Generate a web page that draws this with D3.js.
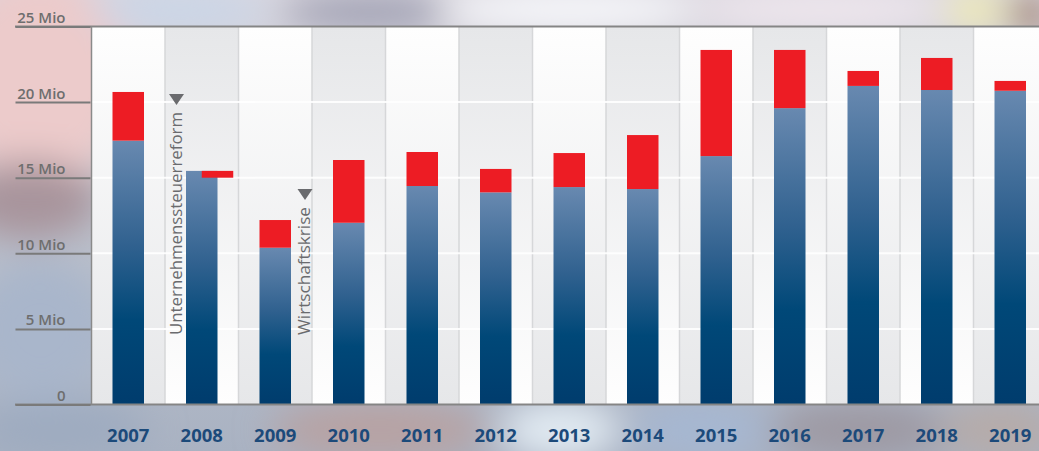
<!DOCTYPE html>
<html><head><meta charset="utf-8">
<script src="https://cdn.jsdelivr.net/npm/d3@7"></script>
<style>html,body{margin:0;padding:0;overflow:hidden;background:#b9c0cc}</style>
</head><body>
<script>
const years = ["2007","2008","2009","2010","2011","2012","2013","2014","2015","2016","2017","2018","2019"];
const baseValues = [17.45, 15.0, 10.37, 12.02, 14.45, 14.03, 14.38, 14.25, 16.43, 19.6, 21.07, 20.8, 20.75];
const topValues = [3.22, 0.45, 1.83, 4.15, 2.25, 1.55, 2.25, 3.57, 7.02, 3.85, 0.99, 2.12, 0.65];
const tickValues = [0, 5, 10, 15, 20, 25];
const tickLabels = ["0", "5 Mio", "10 Mio", "15 Mio", "20 Mio", "25 Mio"];
const annYears = ["2008", "2009"];
const annTexts = ["Unternehmenssteuerreform", "Wirtschaftskrise"];
const topShift = [0, 0.5, 0, 0, 0, 0, 0, 0, 0, 0, 0, 0, 0];

(function(){
const W = 1039, H = 451;
const annLen = [223, 128];
const annOffset = [16.5, 71.5];
const svg = d3.select("body").append("svg").attr("width", W).attr("height", H);
const defs = svg.append("defs");

// background
const bgGrad = defs.append("linearGradient").attr("id","bg").attr("x1",0).attr("y1",0).attr("x2",0).attr("y2",1);
bgGrad.append("stop").attr("offset","0").attr("stop-color","#d9d6de");
bgGrad.append("stop").attr("offset","0.5").attr("stop-color","#bcc1cc");
bgGrad.append("stop").attr("offset","1").attr("stop-color","#a9b2c2");
svg.append("rect").attr("width",W).attr("height",H).attr("fill","url(#bg)");
defs.append("filter").attr("id","blur").attr("x","-50%").attr("y","-50%").attr("width","200%").attr("height","200%")
  .append("feGaussianBlur").attr("stdDeviation",18);
const blobs = [
  [40,80,90,110,"#eccbcb"],[30,200,70,40,"#a8949c"],[40,330,70,70,"#a9b6cb"],
  [180,10,90,20,"#c9d6e8"],[370,12,90,18,"#9c9db0"],[570,10,130,22,"#f7f8fb"],
  [820,10,130,22,"#efe7ee"],[975,10,30,20,"#f1ecb2"],[1030,14,20,20,"#9a7868"],
  [60,430,90,30,"#9eabc0"],[380,430,110,30,"#b7a2a3"],[560,430,60,30,"#e2ebf3"],
  [700,430,70,30,"#a6b7d2"],[860,430,90,30,"#9d99a3"],[1000,430,60,30,"#b6aba9"]
];
const bg = svg.append("g").attr("filter","url(#blur)");
blobs.forEach(b => bg.append("ellipse").attr("cx",b[0]).attr("cy",b[1]).attr("rx",b[2]).attr("ry",b[3]).attr("fill",b[4]));

const pLeft = 91.5, pTop = 26.5, pBottom = 404.5, bandW = 73.5;
const x = d3.scaleBand().domain(years).range([pLeft, pLeft + bandW * years.length]).padding(0);
const y = d3.scaleLinear().domain([0, 25]).range([pBottom, pTop]);
const bw = 31.5;
const bx = d => x(d) + (x.bandwidth() - bw) / 2;

// band gradients
const g1 = defs.append("linearGradient").attr("id","bandA").attr("x1",0).attr("y1",0).attr("x2",0).attr("y2",1);
g1.append("stop").attr("offset","0").attr("stop-color","#fefefe");
g1.append("stop").attr("offset","1").attr("stop-color","#e6e7e9");
const g2 = defs.append("linearGradient").attr("id","bandB").attr("x1",0).attr("y1",0).attr("x2",0).attr("y2",1);
g2.append("stop").attr("offset","0").attr("stop-color","#e6e7e9");
g2.append("stop").attr("offset","1").attr("stop-color","#fefefe");
const blueG = defs.append("linearGradient").attr("id","blueBar").attr("x1",0).attr("y1",0).attr("x2",0).attr("y2",1);
[["0","#6889b0"],["0.4","#30618f"],["0.68","#004878"],["1","#003c6d"]].forEach(s =>
  blueG.append("stop").attr("offset",s[0]).attr("stop-color",s[1]));

const plot = svg.append("g");
plot.append("clipPath").attr("id","clip").append("rect").attr("x",pLeft).attr("y",pTop).attr("width",W-pLeft).attr("height",pBottom-pTop);
const pg = plot.append("g").attr("clip-path","url(#clip)");
pg.selectAll("rect.band").data(years).join("rect").attr("class","band")
  .attr("x", d => x(d)).attr("y", pTop).attr("width", x.bandwidth()).attr("height", pBottom - pTop)
  .attr("fill", (d,i) => i % 2 === 0 ? "url(#bandA)" : "url(#bandB)");
pg.selectAll("line.sep").data(years.slice(1)).join("line").attr("class","sep")
  .attr("x1", d => x(d)).attr("x2", d => x(d)).attr("y1", pTop).attr("y2", pBottom)
  .attr("stroke","#d6d7d9").attr("stroke-width",1.5);
// gridlines
pg.selectAll("line.grid").data(tickValues.slice(1,5)).join("line").attr("class","grid")
  .attr("x1", pLeft).attr("x2", W).attr("y1", d => y(d)).attr("y2", d => y(d))
  .attr("stroke","#ffffff").attr("stroke-width",2).attr("opacity",0.9);

// bars
const stackTop = i => baseValues[i] + (topShift[i] ? topValues[i] : 0);
pg.selectAll("rect.blue").data(years).join("rect").attr("class","blue")
  .attr("x", d => bx(d)).attr("width", bw)
  .attr("y", (d,i) => y(stackTop(i)))
  .attr("height", (d,i) => y(0) - y(stackTop(i)))
  .attr("fill","url(#blueBar)");
pg.selectAll("rect.red").data(years).join("rect").attr("class","red")
  .attr("x", (d,i) => bx(d) + topShift[i] * bw).attr("width", bw)
  .attr("y", (d,i) => y(baseValues[i] + topValues[i]))
  .attr("height", (d,i) => y(baseValues[i]) - y(baseValues[i] + topValues[i]))
  .attr("fill","#ed1c24");

// frame lines
svg.append("line").attr("x1",15).attr("x2",W).attr("y1",pTop).attr("y2",pTop).attr("stroke","#858585").attr("stroke-width",2);
svg.append("line").attr("x1",15).attr("x2",W).attr("y1",pBottom).attr("y2",pBottom).attr("stroke","#858585").attr("stroke-width",2);
svg.append("line").attr("x1",pLeft).attr("x2",pLeft).attr("y1",pTop).attr("y2",pBottom).attr("stroke","#8a8a8a").attr("stroke-width",1.5);

// y axis
const ya = svg.append("g").attr("transform",`translate(${pLeft-1},0)`)
  .call(d3.axisLeft(y).tickValues(tickValues).tickFormat((d,i) => tickLabels[i]).tickSize(75).tickPadding(0));
ya.select(".domain").remove();
ya.selectAll(".tick line").attr("stroke","#7a7a7a").attr("stroke-width",2);
ya.selectAll(".tick text").attr("x",-25).attr("dy",-4).attr("fill","#6e6e6e")
  .style("font-family","'Open Sans', sans-serif").style("font-size","15px").style("font-weight","600");

// x axis
const xa = svg.append("g").attr("transform",`translate(0,${pBottom})`)
  .call(d3.axisBottom(x).tickSize(0));
xa.select(".domain").remove();
xa.selectAll(".tick text").attr("y",37.5).attr("dy",0).attr("fill","#1c4a7a")
  .style("font-family","'Open Sans', sans-serif").style("font-size","18.5px").style("font-weight","700");

// annotations
const ann = svg.append("g");
annYears.forEach((yr, k) => {
  const base = x(yr) + annOffset[k];
  ann.append("text").attr("transform",`translate(${base},335) rotate(-90)`)
    .attr("textLength", annLen[k]).attr("lengthAdjust","spacingAndGlyphs")
    .attr("fill","#6a6b6e").style("font-family","'Open Sans', sans-serif").style("font-size","16px").style("font-weight","500")
    .text(annTexts[k]);
  const triX = base - 5;
  const triY = 335 - annLen[k] - 18;
  ann.append("path").attr("d", d3.line()([[triX-7.5,triY],[triX+7.5,triY],[triX,triY+11]]) + "Z").attr("fill","#6a6b6e");
});
})();
</script>
</body></html>
